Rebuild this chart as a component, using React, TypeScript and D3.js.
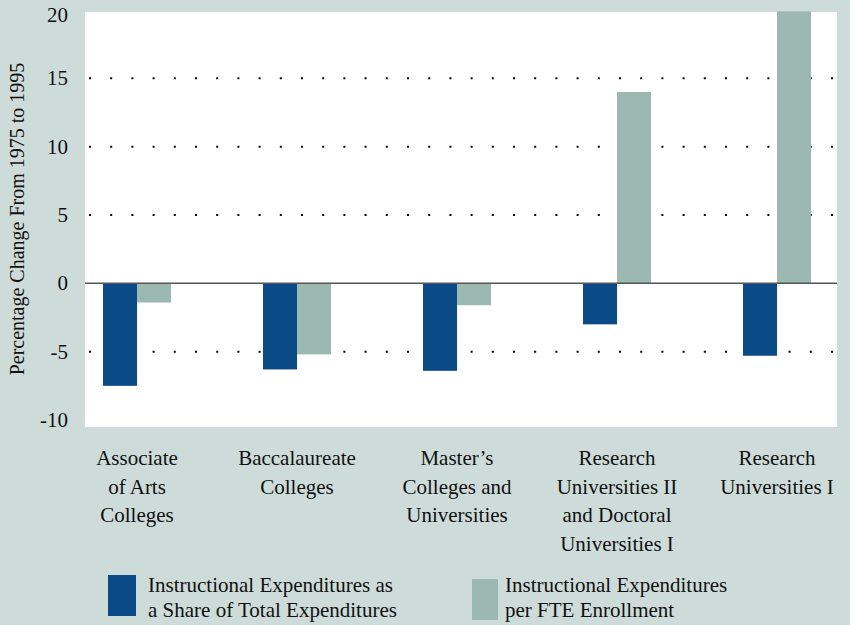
import React, { useRef, useEffect } from 'react';
import * as d3 from 'd3';

// categories (each label split into its printed lines)
const categories = ['assoc', 'bacc', 'masters', 'research2', 'research1'];
const categoryLines = [
    ['Associate', 'of Arts', 'Colleges'],
    ['Baccalaureate', 'Colleges'],
    ['Master\u2019s', 'Colleges and', 'Universities'],
    ['Research', 'Universities II', 'and Doctoral', 'Universities I'],
    ['Research', 'Universities I'],
];

// percentage change 1975-1995
const shareOfTotal = [-7.5, -6.3, -6.4, -3.0, -5.3];
const perFTE = [-1.4, -5.2, -1.6, 14.0, 19.9];

const yTicks = [-10, -5, 0, 5, 10, 15, 20];
const gridValues = [15, 10, 5, -5];

const seriesNames = [
    ['Instructional Expenditures as', 'a Share of Total Expenditures'],
    ['Instructional Expenditures', 'per FTE Enrollment'],
];

const DARK = '#0a4a86';
const LIGHT = '#9bb9b1';
const BG = '#cddcd8';
const FONT = 'Liberation Serif';

const App: React.FC = () => {
    const ref = useRef<HTMLDivElement>(null);

    useEffect(() => {
        const container = d3.select(ref.current);
        container.selectAll('*').remove();

        const W = 850;
        const H = 625;
        const plot = { left: 85, right: 837, top: 12, bottom: 427 };

        const svg = container.append('svg')
            .attr('width', W)
            .attr('height', H)
            .style('display', 'block');

        svg.append('rect').attr('width', W).attr('height', H).attr('fill', BG);
        svg.append('rect')
            .attr('x', plot.left).attr('y', plot.top)
            .attr('width', plot.right - plot.left)
            .attr('height', plot.bottom - plot.top)
            .attr('fill', '#fff');

        const y = d3.scaleLinear().domain([-10, 20]).range([420, 10]);
        const x = d3.scalePoint<string>()
            .domain(categories)
            .range([85, 829])
            .padding(0.325);
        const barW = 34;

        // dotted gridlines
        svg.selectAll('.grid')
            .data(gridValues)
            .enter()
            .append('line')
            .attr('x1', plot.left + 4)
            .attr('x2', plot.right)
            .attr('y1', d => y(d))
            .attr('y2', d => y(d))
            .attr('stroke', '#000')
            .attr('stroke-width', 2)
            .attr('stroke-dasharray', '2 19.2');

        const clip = svg.append('clipPath').attr('id', 'plotclip');
        clip.append('rect')
            .attr('x', plot.left).attr('y', plot.top - 1)
            .attr('width', plot.right - plot.left)
            .attr('height', plot.bottom - plot.top + 1);

        const bars = svg.append('g').attr('clip-path', 'url(#plotclip)');

        bars.selectAll('.bar-share')
            .data(categories)
            .enter()
            .append('rect')
            .attr('x', d => x(d)! - barW)
            .attr('width', barW)
            .attr('y', (d, i) => y(Math.max(0, shareOfTotal[i])))
            .attr('height', (d, i) => Math.abs(y(shareOfTotal[i]) - y(0)))
            .attr('fill', DARK);

        bars.selectAll('.bar-fte')
            .data(categories)
            .enter()
            .append('rect')
            .attr('x', d => x(d)!)
            .attr('width', barW)
            .attr('y', (d, i) => y(Math.max(0, perFTE[i])))
            .attr('height', (d, i) => Math.abs(y(perFTE[i]) - y(0)))
            .attr('fill', LIGHT);

        // zero line
        svg.append('line')
            .attr('x1', plot.left).attr('x2', plot.right)
            .attr('y1', y(0)).attr('y2', y(0))
            .attr('stroke', '#555')
            .attr('stroke-width', 1.5);

        // y tick labels (top one sits a little lower, as in the print)
        svg.selectAll('.ytick')
            .data(yTicks)
            .enter()
            .append('text')
            .attr('x', 68)
            .attr('y', d => y(d) + (d === 20 ? 12 : 7))
            .attr('text-anchor', 'end')
            .attr('font-family', FONT)
            .attr('font-size', 21)
            .attr('fill', '#111')
            .text(d => d);

        // y axis title
        svg.append('text')
            .attr('transform', `translate(24,219) rotate(-90)`)
            .attr('text-anchor', 'middle')
            .attr('font-family', FONT)
            .attr('font-size', 20)
            .attr('fill', '#111')
            .text('Percentage Change From 1975 to 1995');

        // category labels
        categories.forEach((c, i) => {
            const t = svg.append('text')
                .attr('text-anchor', 'middle')
                .attr('font-family', FONT)
                .attr('font-size', 21)
                .attr('fill', '#111');
            categoryLines[i].forEach((line, j) => {
                t.append('tspan')
                    .attr('x', x(c)!)
                    .attr('y', 465 + j * 28.7)
                    .text(line);
            });
        });

        // legend
        const legend = [
            { color: DARK, rx: 108, ry: 575, rw: 28, rh: 41, tx: 148 },
            { color: LIGHT, rx: 472, ry: 579, rw: 26, rh: 41, tx: 505 },
        ];
        legend.forEach((l, i) => {
            svg.append('rect')
                .attr('x', l.rx).attr('y', l.ry)
                .attr('width', l.rw).attr('height', l.rh)
                .attr('fill', l.color);
            const t = svg.append('text')
                .attr('font-family', FONT)
                .attr('font-size', 21)
                .attr('fill', '#111');
            seriesNames[i].forEach((line, j) => {
                t.append('tspan')
                    .attr('x', l.tx)
                    .attr('y', 592 + j * 25)
                    .text(line);
            });
        });
    }, []);

    return <div ref={ref} style={{ position: 'absolute', left: 0, top: 0 }} />;
};

export default App;
